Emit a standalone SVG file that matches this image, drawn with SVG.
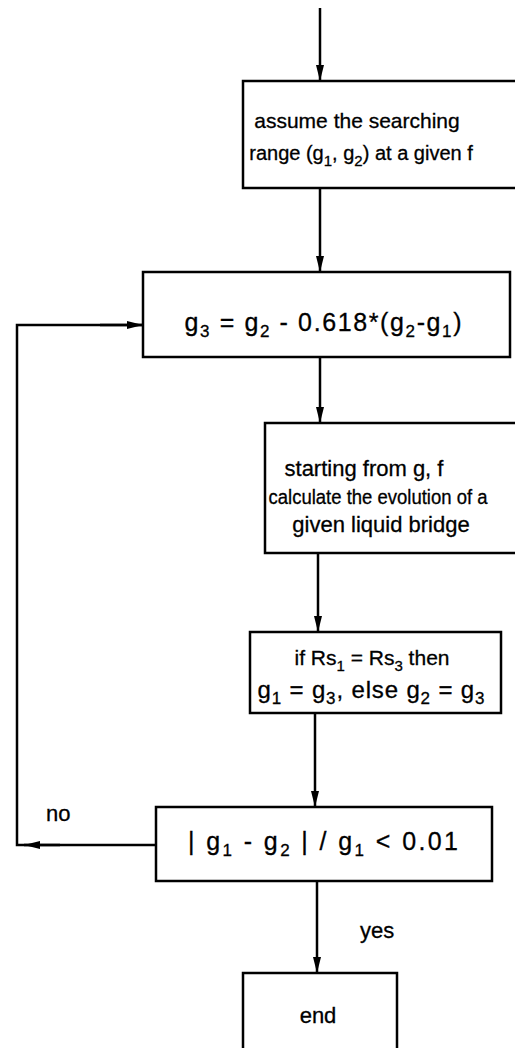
<svg xmlns="http://www.w3.org/2000/svg" width="515" height="1048" viewBox="0 0 515 1048">
<style>
.box{fill:#fff;stroke:#000;stroke-width:2.5}
.ln{fill:none;stroke:#000;stroke-width:2.5}
text{font-family:"Liberation Sans",Arial,sans-serif;font-size:21px;fill:#000;stroke:#000;stroke-width:0.3;text-anchor:middle}
.f{font-size:24px}
.s{font-size:17px}
.l{text-anchor:start}
</style>
<defs>
<marker id="ahL" viewBox="0 0 20 10" refX="20" refY="5" markerWidth="20" markerHeight="8" markerUnits="userSpaceOnUse" orient="auto">
<path d="M0,0 L20,5 L0,10 Z" fill="#000"/>
</marker>
</defs>
<g id="connectors">
<line class="ln" x1="320" y1="8" x2="320" y2="81" marker-end="url(#ahL)"/>
<line class="ln" x1="320" y1="188" x2="320" y2="272" marker-end="url(#ahL)"/>
<line class="ln" x1="320" y1="357" x2="320" y2="423" marker-end="url(#ahL)"/>
<line class="ln" x1="318" y1="553" x2="318" y2="632" marker-end="url(#ahL)"/>
<line class="ln" x1="315" y1="713" x2="315" y2="807" marker-end="url(#ahL)"/>
<line class="ln" x1="317" y1="881" x2="317" y2="973" marker-end="url(#ahL)"/>
<polyline class="ln" points="156,845 17,845 17,325 143,325"/>
<line class="ln" x1="60" y1="845" x2="24" y2="845" marker-end="url(#ahL)"/>
<line class="ln" x1="100" y1="325" x2="143" y2="325" marker-end="url(#ahL)"/>
<text class="l" style="font-size:22px" x="46" y="821">no</text>
<text class="l" style="font-size:22px" x="360" y="938">yes</text>
</g>
<g id="n1">
<rect class="box" x="243" y="81" width="280" height="107"/>
<text x="357" y="128">assume the searching</text>
<text style="font-size:20px" x="361" y="160">range (g<tspan class="s" style="font-size:15px" dy="6">1</tspan><tspan dy="-6">, g</tspan><tspan class="s" style="font-size:15px" dy="6">2</tspan><tspan dy="-6">) at a given f</tspan></text>
</g>
<g id="n2">
<rect class="box" x="143" y="272" width="367" height="85"/>
<text class="f" style="font-size:25px" x="323" y="331" textLength="277" lengthAdjust="spacing">g<tspan class="s" dy="6">3</tspan><tspan dy="-6"> = g</tspan><tspan class="s" dy="6">2</tspan><tspan dy="-6"> - 0.618*(g</tspan><tspan class="s" dy="6">2</tspan><tspan dy="-6">-g</tspan><tspan class="s" dy="6">1</tspan><tspan dy="-6">)</tspan></text>
</g>
<g id="n3">
<rect class="box" x="265" y="423" width="260" height="130"/>
<text style="font-size:22px" x="364" y="476">starting from g, f</text>
<text style="font-size:20px" x="378" y="504" textLength="219" lengthAdjust="spacingAndGlyphs">calculate the evolution of a</text>
<text style="font-size:22px" x="381" y="532">given liquid bridge</text>
</g>
<g id="n4">
<rect class="box" x="250" y="632" width="251" height="81"/>
<text x="372" y="665">if Rs<tspan class="s" style="font-size:15px" dy="6">1</tspan><tspan dy="-6"> = Rs</tspan><tspan class="s" style="font-size:15px" dy="6">3</tspan><tspan dy="-6"> then</tspan></text>
<text class="f" x="371" y="698" textLength="227" lengthAdjust="spacing">g<tspan class="s" dy="6">1</tspan><tspan dy="-6"> = g</tspan><tspan class="s" dy="6">3</tspan><tspan dy="-6">,  else g</tspan><tspan class="s" dy="6">2</tspan><tspan dy="-6"> = g</tspan><tspan class="s" dy="6">3</tspan></text>
</g>
<g id="n5">
<rect class="box" x="156" y="807" width="336" height="74"/>
<text class="f" style="font-size:25px" x="323" y="850" textLength="270" lengthAdjust="spacing">| g<tspan class="s" dy="6">1</tspan><tspan dy="-6"> - g</tspan><tspan class="s" dy="6">2</tspan><tspan dy="-6"> | / g</tspan><tspan class="s" dy="6">1</tspan><tspan dy="-6">  &lt; 0.01</tspan></text>
</g>
<g id="n6">
<rect class="box" x="243" y="973" width="154" height="90"/>
<text style="font-size:22px" x="318" y="1023">end</text>
</g>
</svg>
